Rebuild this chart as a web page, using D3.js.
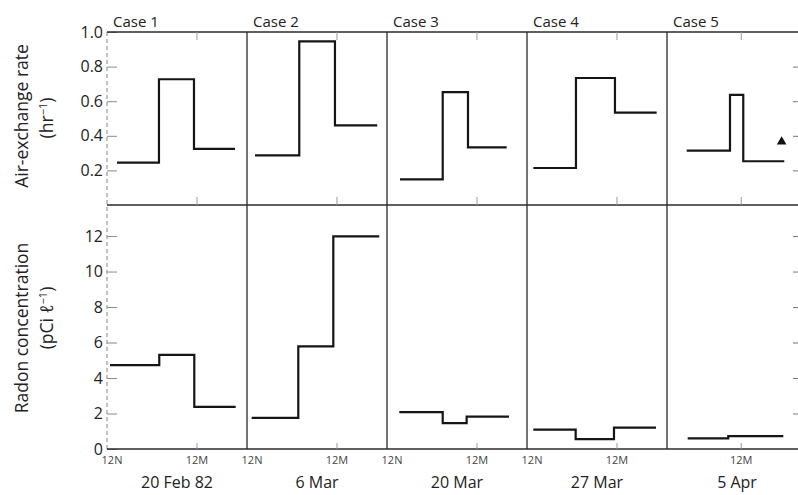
<!DOCTYPE html>
<html>
<head>
<meta charset="utf-8">
<script src="https://cdn.jsdelivr.net/npm/d3@7"></script>
<style>
  body { margin: 0; background: #fff; }
  svg { display: block; }
</style>
</head>
<body>
<div id="chart"></div>
<script>
const cases = ['Case 1', 'Case 2', 'Case 3', 'Case 4', 'Case 5'];
const dates = ['20 Feb 82', '6 Mar', '20 Mar', '27 Mar', '5 Apr'];
// hour (after 12 noon) at the left edge of each panel
const panelStartHour = [0, 0, 0, 0, 2.1];
const show12N = [true, true, true, true, false];

// step boundaries (hours after noon) and level values
const airTimes = [
  [1.33, 6.93, 11.6, 17.07],
  [1.07, 6.97, 11.73, 17.37],
  [1.73, 7.43, 10.8, 15.96],
  [0.84, 6.53, 11.73, 17.29],
  [4.73, 10.5, 12.27, 17.74]
];
const airValues = [
  [0.245, 0.727, 0.325],
  [0.287, 0.946, 0.46],
  [0.148, 0.653, 0.333],
  [0.214, 0.734, 0.534],
  [0.314, 0.636, 0.253]
];
const radonTimes = [
  [0.4, 6.97, 11.64, 17.16],
  [0.62, 6.84, 11.51, 17.64],
  [1.64, 7.43, 10.62, 16.27],
  [0.84, 6.49, 11.6, 17.2],
  [4.86, 10.27, 17.61]
];
const radonValues = [
  [4.73, 5.30, 2.37],
  [1.75, 5.78, 11.98],
  [2.08, 1.46, 1.82],
  [1.09, 0.56, 1.2],
  [0.6, 0.73]
];
// small filled marker in case 5
const markerCase = 4, markerHour = 17.39, markerValue = 0.366;

const airTicks = [0.2, 0.4, 0.6, 0.8, 1.0];
const radonTicks = [0, 2, 4, 6, 8, 10, 12];

const width = 798, height = 495;
const left = 107, right = 807;
const topY = 32, midY = 205, bottomY = 449;
const HOURS_PER_PANEL = 18.67;
const FONT = '"Open Sans", "DejaVu Sans", sans-serif';

const svg = d3.select('#chart').append('svg')
  .attr('width', width)
  .attr('height', height)
  .style('font-family', FONT);

const panel = d3.scaleBand().domain(cases).range([left, right]);

const yAir = d3.scaleLinear().domain([0, 1]).range([midY, topY]);
const yRadon = d3.scaleLinear().domain([0, 13.75]).range([bottomY, midY]);

function xScaleFor(i) {
  const x0 = panel(cases[i]);
  return d3.scaleLinear()
    .domain([panelStartHour[i], panelStartHour[i] + HOURS_PER_PANEL])
    .range([x0, x0 + panel.bandwidth()]);
}

// left axes (faint dashed spine, ticks inward)
function leftAxis(scale, ticks, fmt) {
  const g = svg.append('g')
    .attr('transform', `translate(${left},0)`)
    .call(d3.axisLeft(scale).tickValues(ticks).tickSize(-10).tickPadding(4).tickFormat(fmt));
  g.select('.domain').remove();
  g.selectAll('line').attr('stroke', '#8a8a8a').attr('stroke-width', 1);
  g.selectAll('text')
    .attr('font-family', FONT)
    .attr('font-size', 16)
    .attr('fill', '#222');
}
leftAxis(yAir, airTicks, d3.format('.1f'));
leftAxis(yRadon, radonTicks, d3.format('d'));

svg.append('line')
  .attr('x1', left).attr('x2', left)
  .attr('y1', topY).attr('y2', bottomY)
  .attr('stroke', '#999')
  .attr('stroke-width', 1.2)
  .attr('stroke-dasharray', '4,3');

// right-side inward ticks
function rightAxis(scale, ticks) {
  const g = svg.append('g')
    .attr('transform', `translate(${right},0)`)
    .call(d3.axisRight(scale).tickValues(ticks).tickSize(-14).tickFormat(''));
  g.select('.domain').remove();
  g.selectAll('line').attr('stroke', '#777');
}
rightAxis(yAir, airTicks.filter(d => d < 1));
rightAxis(yRadon, radonTicks.filter(d => d > 0));

// horizontal frame lines
[topY, midY, bottomY].forEach(y => {
  svg.append('line')
    .attr('x1', left).attr('x2', right)
    .attr('y1', y).attr('y2', y)
    .attr('stroke', '#2a2a2a')
    .attr('stroke-width', 1.4);
});

// panel dividers
cases.slice(1).forEach(c => {
  svg.append('line')
    .attr('x1', panel(c)).attr('x2', panel(c))
    .attr('y1', topY).attr('y2', bottomY)
    .attr('stroke', '#2a2a2a')
    .attr('stroke-width', 1.3);
});

const stepLine = d3.line()
  .x(d => d[0])
  .y(d => d[1])
  .curve(d3.curveStepAfter);

cases.forEach((c, i) => {
  const x = xScaleFor(i);
  const x0 = panel(c);

  // case title
  svg.append('text')
    .attr('x', x0 + 6)
    .attr('y', 27)
    .attr('font-size', 15)
    .attr('fill', '#222')
    .text(c);

  // small 12M ticks
  [[topY, 8], [midY, -8], [bottomY, -6]].forEach(([y, len]) => {
    svg.append('line')
      .attr('x1', x(12)).attr('x2', x(12))
      .attr('y1', y).attr('y2', y + len)
      .attr('stroke', '#999');
  });

  // step series
  const airPts = airValues[i].map((v, k) => [x(airTimes[i][k]), yAir(v)]);
  airPts.push([x(airTimes[i][airTimes[i].length - 1]), yAir(airValues[i][airValues[i].length - 1])]);
  svg.append('path')
    .attr('d', stepLine(airPts))
    .attr('fill', 'none')
    .attr('stroke', '#151515')
    .attr('stroke-width', 2.2);

  const rnPts = radonValues[i].map((v, k) => [x(radonTimes[i][k]), yRadon(v)]);
  rnPts.push([x(radonTimes[i][radonTimes[i].length - 1]), yRadon(radonValues[i][radonValues[i].length - 1])]);
  svg.append('path')
    .attr('d', stepLine(rnPts))
    .attr('fill', 'none')
    .attr('stroke', '#151515')
    .attr('stroke-width', 2.2);

  // time labels
  if (show12N[i]) {
    svg.append('text')
      .attr('x', x(0) + 5)
      .attr('y', 464)
      .attr('text-anchor', 'middle')
      .attr('font-size', 11)
      .attr('fill', '#444')
      .text('12N');
  }
  svg.append('text')
    .attr('x', x(12))
    .attr('y', 464)
    .attr('text-anchor', 'middle')
    .attr('font-size', 11)
    .attr('fill', '#444')
    .text('12M');

  // date label
  svg.append('text')
    .attr('x', x0 + panel.bandwidth() / 2)
    .attr('y', 488)
    .attr('text-anchor', 'middle')
    .attr('font-size', 16)
    .attr('fill', '#222')
    .text(dates[i]);
});

// marker
const xm = xScaleFor(markerCase);
svg.append('path')
  .attr('d', d3.symbol().type(d3.symbolTriangle).size(40)())
  .attr('transform', `translate(${xm(markerHour)},${yAir(markerValue)})`)
  .attr('fill', '#111');

// axis titles
function axisTitle(cx, cy) {
  return svg.append('text')
    .attr('transform', `translate(${cx},${cy}) rotate(-90)`)
    .attr('text-anchor', 'middle')
    .attr('font-size', 17.5)
    .attr('fill', '#222');
}
axisTitle(28, 116).text('Air-exchange rate');
const airUnit = axisTitle(53, 118);
airUnit.append('tspan').text('(hr');
airUnit.append('tspan').attr('dy', -6).attr('font-size', 11).text('−1');
airUnit.append('tspan').attr('dy', 6).text(')');

axisTitle(28, 328).text('Radon concentration');
const rnUnit = axisTitle(53, 318);
rnUnit.append('tspan').text('(pCi ℓ');
rnUnit.append('tspan').attr('dy', -6).attr('font-size', 11).text('−1');
rnUnit.append('tspan').attr('dy', 6).text(')');
</script>
</body>
</html>
